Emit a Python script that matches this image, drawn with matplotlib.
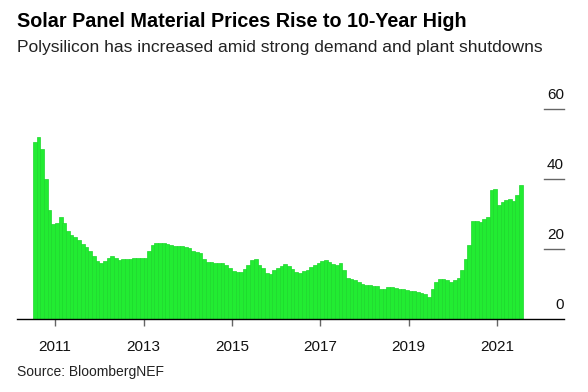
import matplotlib
matplotlib.use("Agg")
import matplotlib.pyplot as plt
import matplotlib.dates as mdates
import matplotlib.transforms as mtransforms
import pandas as pd

# monthly polysilicon price, Jul 2010 - Jul 2021
start_month = "2010-07-01"
prices = [
    50.5, 51.8, 48.5, 40.0, 31.0, 27.0, 27.5, 29.0, 27.5, 25.0, 24.0, 23.5,
    22.5, 21.5, 20.5, 19.5, 18.0, 16.5, 16.0, 16.5, 17.5, 18.0, 17.3, 16.8,
    17.0, 17.1, 17.2, 17.3, 17.4, 17.3, 17.5, 19.5, 21.2, 21.7, 21.8, 21.8,
    21.5, 21.0, 20.9, 20.9, 20.8, 20.6, 20.3, 19.5, 19.0, 18.7, 17.0, 16.3,
    16.2, 16.0, 16.0, 15.9, 15.5, 14.5, 13.6, 13.3, 13.5, 14.2, 15.5, 16.8,
    17.2, 15.5, 14.5, 13.0, 12.8, 14.0, 14.6, 15.2, 15.6, 15.0, 14.3, 13.4,
    13.2, 13.6, 14.0, 14.8, 15.4, 15.9, 16.6, 16.8, 16.4, 15.6, 15.4, 16.0,
    14.0, 11.6, 11.4, 11.1, 10.5, 10.0, 9.7, 9.6, 9.5, 9.4, 8.6, 8.7,
    9.0, 9.0, 8.8, 8.6, 8.5, 8.3, 8.0, 7.9, 7.8, 7.5, 7.0, 6.3,
    8.5, 10.5, 11.5, 11.3, 11.1, 10.5, 11.2, 11.6, 14.0, 17.0, 21.0, 28.0,
    27.9, 27.7, 28.5, 29.2, 36.8, 37.2, 32.5, 33.5, 34.0, 34.1, 33.6, 35.5,
    38.2,
]
tick_years = [2011, 2013, 2015, 2017, 2019, 2021]
y_ticks = [0, 20, 40, 60]

title = "Solar Panel Material Prices Rise to 10-Year High"
subtitle = "Polysilicon has increased amid strong demand and plant shutdowns"
source = "Source: BloombergNEF"

plt.rcParams['font.family'] = ['Liberation Sans', 'DejaVu Sans']

months = pd.date_range(start_month, periods=len(prices), freq="MS") + pd.Timedelta(days=15)

fig = plt.figure(figsize=(5.88, 3.92), dpi=100)
ax = fig.add_axes([0.029, 0.1862, 0.9303, 0.5365])

ax.bar(months, prices, width=31, color="#22ec32", edgecolor="#1cd82c", linewidth=0.5)

ax.set_xlim(pd.Timestamp("2010-02-20"), pd.Timestamp("2022-07-08"))
ax.set_ylim(0, 60)

for s in ["top", "left", "right"]:
    ax.spines[s].set_visible(False)
ax.spines["bottom"].set_color("black")
ax.spines["bottom"].set_linewidth(1)
ax.spines["bottom"].set_zorder(3)

ax.set_xticks([pd.Timestamp(f"{y}-01-01") for y in tick_years])
ax.xaxis.set_major_formatter(mdates.DateFormatter("%Y"))
ax.tick_params(axis="x", length=5, width=1, color="#666666", pad=10,
               labelsize=11, labelcolor="#111111")
ax.set_yticks([])

# y labels sit above short grey rules at the right edge
trans = mtransforms.blended_transform_factory(ax.transAxes, ax.transData)
for v in y_ticks:
    if v > 0:
        ax.plot([0.9635, 1.0], [v, v], transform=trans, color="#666666",
                linewidth=1, clip_on=False)
    ax.text(1.0, v + 1.9, str(v), transform=trans, ha="right", va="bottom",
            fontsize=11, color="#111111", clip_on=False)

fig.text(0.029, 0.93, title, fontsize=14.2, fontweight="bold", color="black",
         ha="left", va="baseline")
fig.text(0.029, 0.868, subtitle, fontsize=12.6, color="#222222",
         ha="left", va="baseline")
fig.text(0.029, 0.04, source, fontsize=10, color="#222222",
         ha="left", va="baseline")

fig.savefig("out.png", dpi=100)
